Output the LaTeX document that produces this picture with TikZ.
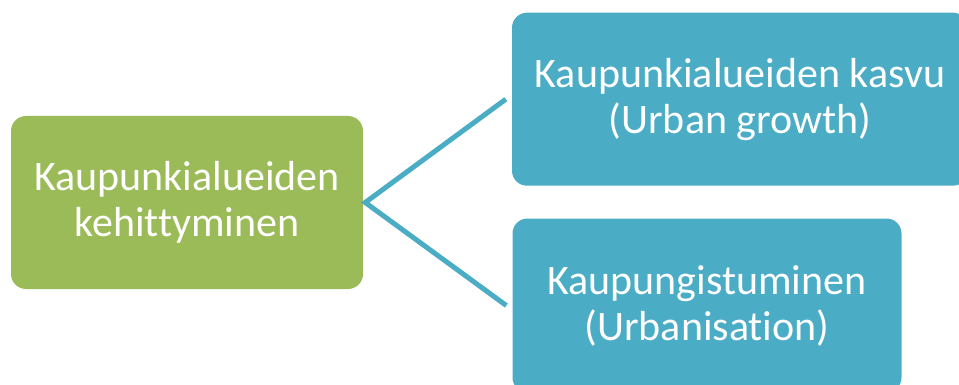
\documentclass[tikz,border=0pt]{standalone}
\usepackage{fontspec}
\setmainfont[Ligatures=NoCommon]{Carlito}
\usetikzlibrary{calc}
\definecolor{boxgreen}{HTML}{9BBB59}
\definecolor{boxblue}{HTML}{4BACC6}
\tikzset{
  box/.style={rounded corners=15pt, text=white, align=center, inner sep=0pt,
    font=\fontsize{42}{46}\selectfont},
  greenbox/.style={box, fill=boxgreen},
  bluebox/.style={box, fill=boxblue},
  link/.style={draw=boxblue, line width=5pt, line join=miter}
}
\begin{document}
\begin{tikzpicture}[x=1pt,y=-1pt]
\useasboundingbox (0,0) rectangle (959,385);
\clip (0,0) rectangle (959,385);
\node[greenbox, minimum width=352pt, minimum height=173pt] (g) at (187,202.5) {Kaupunkialueiden\\kehittyminen};
\node[bluebox, minimum width=456pt, minimum height=173pt] (t) at (740,99.2) {Kaupunkialueiden kasvu\\(Urban growth)};
\node[bluebox, minimum width=389pt, minimum height=174pt] (b) at (707,305.5) {Kaupungistuminen\\(Urbanisation)};
\coordinate (apex) at ($(g.east)+(2,0)$);
\coordinate (tend) at ($(t.west)+(-6,0)$);
\coordinate (bend) at ($(b.west)+(-6,0)$);
\draw[link] (tend) -- (apex) -- (bend);
\end{tikzpicture}
\end{document}
